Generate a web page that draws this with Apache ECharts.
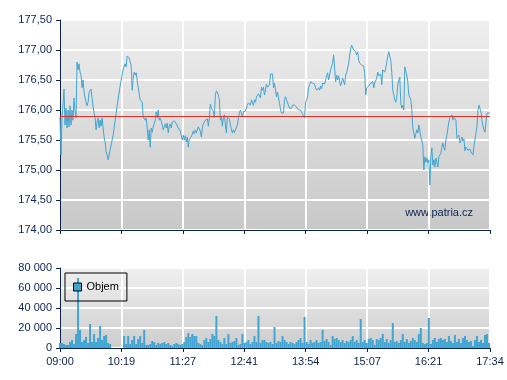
<!DOCTYPE html>
<html>
<head>
<meta charset="utf-8">
<script src="https://cdn.jsdelivr.net/npm/echarts@6/dist/echarts.min.js"></script>
<style>
html, body { margin: 0; padding: 0; background: #fff; }
#chart { width: 507px; height: 380px; }
</style>
</head>
<body>
<div id="chart"></div>
<script>
// axis labels (ticks are evenly spaced, the times are not)
var timeLabels = ['09:00', '10:19', '11:27', '12:41', '13:54', '15:07', '16:21', '17:34'];
var prevClose = 175.90;
// intraday samples: one slot per step of the session, 429 slots over 7 label steps
var slotsPerTick = 429 / 7;
var price = [
    175.88,175.25,175.87,176.08,176.35,175.75,176.03,175.70,176.00,175.72,
    176.07,175.75,176.00,175.83,176.20,175.97,175.87,176.80,176.67,176.77,
    176.63,176.57,176.37,176.50,176.30,176.20,176.17,176.07,176.13,176.30,
    176.33,176.35,176.20,176.05,175.95,175.87,175.67,175.80,175.87,175.70,
    175.83,175.73,175.87,175.70,175.55,175.47,175.30,175.25,175.17,175.15,
    null,null,null,175.58,null,null,null,176.07,null,null,
    176.40,null,null,176.68,176.73,176.77,176.72,176.90,null,176.87,
    176.80,176.75,176.33,176.53,176.63,176.58,176.62,176.63,176.37,176.28,
    176.17,176.18,176.13,175.88,175.90,175.83,175.87,175.70,175.50,175.67,
    175.38,175.70,175.63,175.72,175.70,175.83,175.97,175.87,176.00,175.83,
    175.87,175.82,175.83,175.67,175.72,175.77,175.70,175.78,175.62,175.73,
    175.77,175.70,175.80,175.83,175.82,175.83,175.77,175.80,175.70,175.67,
    175.65,175.67,175.50,175.58,175.50,175.57,175.47,175.55,175.38,175.52,
    175.55,175.55,175.57,175.65,175.60,175.67,175.62,175.65,175.72,175.73,
    175.65,175.55,175.70,175.77,175.80,175.83,175.85,175.85,175.73,175.87,
    176.10,176.03,176.00,175.98,175.87,176.25,176.32,176.30,176.25,176.17,
    175.83,175.90,175.73,175.87,175.92,175.75,175.62,175.88,175.88,175.85,
    175.75,175.67,175.62,175.67,175.62,175.67,175.68,175.75,175.87,175.95,
    176.00,175.97,175.88,175.97,176.00,175.98,176.00,176.08,176.12,176.13,
    176.08,176.17,176.20,176.08,176.17,176.13,176.22,176.25,176.27,176.30,
    176.20,176.38,176.33,176.38,176.25,176.33,176.43,176.38,176.40,176.42,
    176.60,176.57,176.60,176.37,176.45,176.45,176.22,176.30,176.20,176.12,
    176.00,175.95,175.98,175.95,176.17,176.22,176.17,176.12,176.10,176.03,
    176.00,176.03,176.08,176.07,176.08,176.05,176.05,176.03,176.00,175.97,
    176.00,175.97,175.93,175.92,175.87,176.12,176.17,176.22,176.37,176.42,
    176.47,176.50,176.45,176.48,176.43,176.37,176.33,176.30,176.37,176.33,
    176.40,176.35,176.45,176.47,176.43,176.50,176.57,176.62,176.50,176.47,
    176.67,176.73,176.78,176.92,176.95,176.47,176.58,176.50,176.57,176.47,
    176.40,176.43,176.53,176.55,176.42,176.58,176.63,176.70,176.78,176.92,
    177.02,177.08,177.05,177.00,177.03,176.97,176.92,176.97,176.83,176.78,
    176.77,176.75,176.77,176.73,176.62,176.25,176.37,176.38,176.40,176.43,
    176.45,176.43,176.47,176.37,176.45,176.47,176.53,176.63,176.57,176.55,
    176.60,176.42,176.67,176.65,176.63,176.70,176.80,176.83,176.97,177.00,
    176.83,176.63,176.33,176.25,176.17,176.13,176.22,176.42,176.50,176.55,
    176.12,176.03,176.08,176.00,176.72,176.75,176.58,176.47,176.25,176.22,
    176.17,176.00,175.70,175.67,175.53,175.50,175.67,175.62,175.75,175.75,
    175.55,175.58,175.42,175.00,175.22,175.13,175.20,175.12,175.17,174.75,
    175.22,175.37,175.08,175.17,175.05,175.20,175.13,175.05,175.22,175.25,
    175.28,175.38,175.45,175.37,175.33,175.50,175.58,175.70,175.80,175.88,
    175.87,175.92,175.83,175.88,175.87,175.83,175.53,175.55,175.58,175.45,
    175.47,175.55,175.48,175.52,175.32,175.38,175.40,175.33,175.30,175.35,
    175.30,175.33,175.25,175.40,175.43,175.62,175.73,176.00,176.08,176.10,
    175.97,175.83,175.73,175.67,175.63,175.80,175.95,175.95,175.95,175.95
];
// traded volume in thousands, one bar every 2 slots
var volumeK = [
    5,5,4,3,3,6,8,4,14,70,
    18,6,8,11,5,24,6,14,6,10,
    22,8,12,13,5,4,0,0,0,0,
    0,0,12,4,12,4,8,12,4,9,
    12,5,18,3,3,4,7,6,3,5,
    4,5,6,4,5,3,2,4,5,4,
    3,4,6,11,15,11,14,12,12,5,
    4,3,8,10,6,9,14,12,32,8,
    6,4,10,4,14,5,6,7,10,3,
    4,14,5,6,8,4,6,12,6,32,
    5,8,8,6,5,6,4,21,5,7,
    6,12,8,6,4,6,5,4,6,8,
    10,5,31,6,4,8,5,6,8,5,
    6,18,7,9,6,3,12,9,10,8,
    6,8,5,7,6,8,12,6,8,5,
    29,6,8,5,9,10,8,3,9,8,
    10,14,6,9,5,8,25,6,7,5,
    8,14,6,9,5,7,10,8,6,14,
    20,5,4,5,30,4,8,10,6,9,
    10,8,9,6,12,7,5,13,6,9,
    5,10,12,8,6,7,2,8,12,6,
    8,5,13,14,5
];

var navy = '#0c2350';
var blue = '#42a5d1';
var font = '"Liberation Sans", Arial, sans-serif';

function panelBg(top, bottom) {
    return new echarts.graphic.LinearGradient(0, 0, 0, 1, [
        { offset: 0, color: top },
        { offset: 1, color: bottom }
    ]);
}

function timeAxis(gridIndex, showLabels) {
    return {
        type: 'value',
        gridIndex: gridIndex,
        min: 0,
        max: 7,
        interval: 1,
        axisLine: { lineStyle: { color: navy, width: 1 } },
        axisTick: { length: 4, lineStyle: { color: navy } },
        axisLabel: {
            show: showLabels,
            color: navy,
            fontSize: 11,
            fontFamily: font,
            margin: 8,
            formatter: function (v) { return timeLabels[Math.round(v)]; }
        },
        splitLine: { lineStyle: { color: '#ffffff', width: 2 } }
    };
}

var priceData = price.map(function (p, i) { return [i / slotsPerTick, p]; });
var volumeData = volumeK.map(function (v, i) { return [2 * i / slotsPerTick, v * 1000]; });

var chart = echarts.init(document.getElementById('chart'));
chart.setOption({
    animation: false,
    backgroundColor: '#ffffff',
    grid: [
        { left: 60, top: 20, width: 430, height: 210, show: true, borderWidth: 0,
          backgroundColor: panelBg('#efefef', '#c8c8c8') },
        { left: 60, top: 268, width: 430, height: 80, show: true, borderWidth: 0,
          backgroundColor: panelBg('#f0f0f0', '#cdcdcd') }
    ],
    xAxis: [timeAxis(0, false), timeAxis(1, true)],
    yAxis: [
        {
            type: 'value', gridIndex: 0, min: 174, max: 177.5, interval: 0.5,
            axisLine: { show: true, lineStyle: { color: navy } },
            axisTick: { show: true, length: 4, lineStyle: { color: navy } },
            axisLabel: {
                color: navy, fontSize: 11, fontFamily: font, margin: 8,
                formatter: function (v) { return v.toFixed(2).replace('.', ','); }
            },
            splitLine: { lineStyle: { color: '#ffffff', width: 2 } }
        },
        {
            type: 'value', gridIndex: 1, min: 0, max: 80000, interval: 20000,
            axisLine: { show: true, lineStyle: { color: navy } },
            axisTick: { show: true, length: 4, lineStyle: { color: navy } },
            axisLabel: {
                color: navy, fontSize: 11, fontFamily: font, margin: 8,
                formatter: function (v) { return v === 0 ? '0' : (v / 1000) + ' 000'; }
            },
            splitLine: { lineStyle: { color: '#ffffff', width: 2 } }
        }
    ],
    legend: {
        data: ['Objem'],
        left: 65,
        top: 273,
        padding: [7, 8, 7, 8],
        borderColor: '#000',
        borderWidth: 1,
        itemWidth: 8,
        itemHeight: 8,
        icon: 'rect',
        itemStyle: { borderColor: '#000', borderWidth: 1 },
        textStyle: { color: '#000', fontSize: 11, fontFamily: font, lineHeight: 14 }
    },
    graphic: [{
        type: 'text',
        right: 34,
        top: 207,
        style: { text: 'www.patria.cz', fill: navy, font: '11px ' + font }
    }],
    series: [
        {
            name: 'Kurz',
            type: 'line',
            xAxisIndex: 0,
            yAxisIndex: 0,
            data: priceData,
            showSymbol: false,
            connectNulls: true,
            lineStyle: { color: blue, width: 1 },
            markLine: {
                silent: true,
                symbol: 'none',
                label: { show: false },
                lineStyle: { color: '#e0302a', width: 1, type: 'solid' },
                data: [{ yAxis: prevClose }]
            }
        },
        {
            name: 'Objem',
            type: 'bar',
            xAxisIndex: 1,
            yAxisIndex: 1,
            data: volumeData,
            barWidth: 2,
            itemStyle: { color: blue }
        }
    ]
});
</script>
</body>
</html>
